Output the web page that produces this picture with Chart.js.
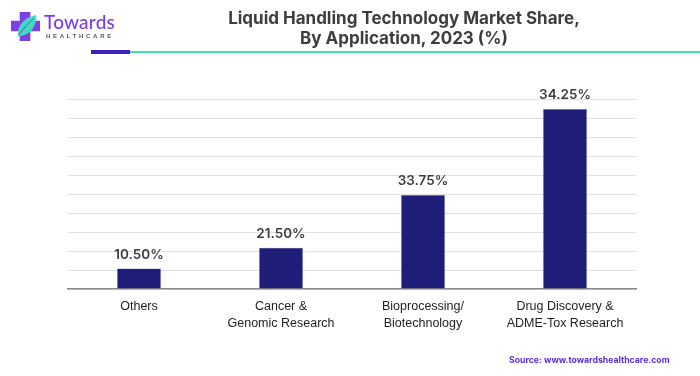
<!DOCTYPE html>
<html><head><meta charset="utf-8">
<script src="https://cdn.jsdelivr.net/npm/chart.js@4"></script>
<style>
html,body{margin:0;padding:0;background:#fff;}
#wrap{position:relative;width:700px;height:376px;overflow:hidden;font-family:Inter,"Liberation Sans",sans-serif;}
#c{position:absolute;left:0;top:0;}
.title{position:absolute;left:204px;width:400px;text-align:center;font-weight:700;font-size:17px;color:#3d3d3d;line-height:20px;top:8px;white-space:nowrap;}
.brand{position:absolute;left:44px;top:10px;font-family:Lato,Inter,sans-serif;font-weight:500;font-size:19px;color:#7b3fe4;letter-spacing:0.2px;}
.sub{position:absolute;left:46px;top:33px;font-family:"Liberation Sans",sans-serif;font-size:6px;color:#555;letter-spacing:2.7px;font-weight:700;}
.src{position:absolute;left:509px;top:355px;font-size:8.7px;font-weight:700;color:#5a2fd6;}
.bar1{position:absolute;left:91px;top:50px;width:39px;height:4px;background:#3f1fb8;}
.bar2{position:absolute;left:130px;top:51px;width:570px;height:2px;background:#3fe0b5;}
svg{position:absolute;left:10px;top:11px;}
</style></head>
<body>
<div id="wrap">
<canvas id="c" width="700" height="376"></canvas>
<svg width="31" height="31" viewBox="0 0 32 32">
<path d="M10 1h11v9h10v11H21v10H10V21H1V10h9z" fill="#7b3fe4"/>
<path d="M8 26C7 14 16 6 27 4C28 16 20 26 8 26z" fill="#3fe0c0" opacity="0.95"/>
<path d="M9 25C14 18 19 12 25 7" stroke="#7b3fe4" stroke-width="1" fill="none"/>
</svg>
<div class="brand">Towards</div>
<div class="sub">HEALTHCARE</div>
<div class="bar1"></div><div class="bar2"></div>
<div class="title">Liquid Handling Technology Market Share,<br>By Application, 2023 (%)</div>
<div class="src">Source: www.towardshealthcare.com</div>
</div>
<script>
const categories = [["Others"], ["Cancer &", "Genomic Research"], ["Bioprocessing/", "Biotechnology"], ["Drug Discovery &", "ADME-Tox Research"]];
const shareLabels = ["10.50%", "21.50%", "33.75%", "34.25%"];
// bar heights as drawn in the reference (gridline units)
const barHeights = [1.08, 2.17, 4.95, 9.48];
const yTicks = [0,1,2,3,4,5,6,7,8,9,10];

const labelPlugin = {
  id: 'vlabels',
  afterDatasetsDraw(chart) {
    const ctx = chart.ctx;
    const meta = chart.getDatasetMeta(0);
    ctx.save();
    ctx.font = '600 13.5px Inter, "Liberation Sans", sans-serif';
    ctx.fillStyle = '#3d3d3d';
    ctx.textAlign = 'center';
    ctx.textBaseline = 'bottom';
    meta.data.forEach((bar, i) => {
      ctx.fillText(shareLabels[i], bar.x, bar.y - 7);
    });
    ctx.restore();
  }
};

new Chart(document.getElementById('c'), {
  type: 'bar',
  data: {
    labels: categories,
    datasets: [{
      data: barHeights,
      backgroundColor: '#1e1e78',
      borderColor: '#8888c8',
      borderWidth: {left:0.6,right:0.6,top:0.6,bottom:0},
      barPercentage: 0.62,
      categoryPercentage: 0.5
    }]
  },
  options: {
    responsive: false,
    animation: false,
    layout: { padding: { left: 0, right: 64, top: 99, bottom: 0 } },
    plugins: { legend: { display: false }, tooltip: { enabled: false } },
    scales: {
      x: {
        grid: { display: false },
        border: { display: true, color: '#8a8a8a', width: 1.5 },
        ticks: { color: '#1e1e1e', font: { family: '"Liberation Sans", Arial, sans-serif', size: 12.5, lineHeight: 1.36 }, padding: 1, maxRotation: 0, autoSkip: false },
        afterFit(s) { s.height = 87; }
      },
      y: {
        min: 0, max: 10,
        afterBuildTicks(s) { s.ticks = yTicks.map(v => ({ value: v })); },
        ticks: { display: false },
        grid: { color: '#e0e0e0', lineWidth: 1, drawTicks: false },
        border: { display: false },
        afterFit(s) { s.width = 68; }
      }
    }
  },
  plugins: [labelPlugin]
});
</script>
</body></html>
